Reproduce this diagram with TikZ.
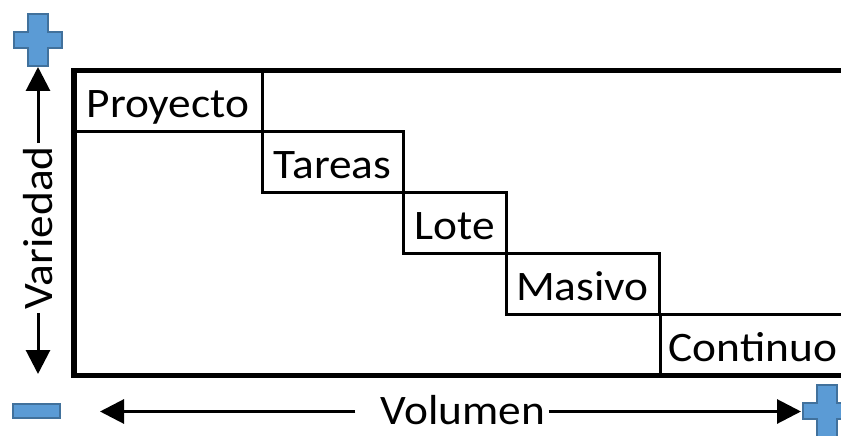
\documentclass[tikz,border=0pt]{standalone}
\usepackage{fontspec}
\setmainfont{Carlito}[FakeStretch=1.08]
\usetikzlibrary{arrows.meta}
\definecolor{plusfill}{HTML}{5B9BD5}
\definecolor{plusdraw}{HTML}{41719C}
\tikzset{
  cell/.style={draw=black, line width=3pt, inner sep=0pt, text height=47pt, text depth=14pt,
    font=\fontsize{42}{50}\selectfont},
  frame/.style={draw=black, line width=5.5pt},
  axis/.style={line width=3pt, -{Triangle[length=24pt,width=24pt]}},
  axislabel/.style={inner sep=3pt, font=\fontsize{42}{50}\selectfont},
  sign/.style={fill=plusfill, draw=plusdraw, line width=2pt},
  plussign/.pic={\draw[sign] (-10,-26) -- (10,-26) -- (10,-8) -- (24,-8) -- (24,8) -- (10,8)
     -- (10,26) -- (-10,26) -- (-10,8) -- (-24,8) -- (-24,-8) -- (-10,-8) -- cycle;},
}
\begin{document}
\begin{tikzpicture}[x=1pt,y=-1pt]
\useasboundingbox (0,0) rectangle (841,436);
\begin{scope}
\clip (0,0) rectangle (841,436);
\node[cell, minimum width=188pt, minimum height=61pt] (proy) at (168,100.75) {Proyecto};
\node[cell, minimum width=141pt, minimum height=61pt] (tar) at (332.5,162) {Tareas};
\node[cell, minimum width=103pt, minimum height=60pt] (lote) at (454.5,223) {Lote};
\node[cell, minimum width=153pt, minimum height=61pt] (mas) at (582.5,283.5) {Masivo};
\node[cell, minimum width=186pt, minimum height=61pt] (cont) at (753,345.25) {Continuo};
\draw[frame] (74,70.5) rectangle (850,375.5);
\pic at (827,411) {plussign};
\end{scope}
\pic at (38,40) {plussign};
\draw[sign] (13,404) rectangle (60,418);
\node[axislabel, rotate=90] (var) at (38,228) {Variedad};
\node[axislabel] (vol) at (463,410) {Volumen};
\coordinate (uptip) at (38,67);
\coordinate (downtip) at (38,374);
\coordinate (lefttip) at (100,411.5);
\coordinate (righttip) at (801,411.5);
\draw[axis] (var.east) -- (uptip);
\draw[axis] (var.west) -- (downtip);
\draw[axis, shorten <=22pt] ([yshift=-1.5pt]vol.west) -- (lefttip);
\draw[axis] ([yshift=-1.5pt]vol.east) -- (righttip);
\end{tikzpicture}
\end{document}
